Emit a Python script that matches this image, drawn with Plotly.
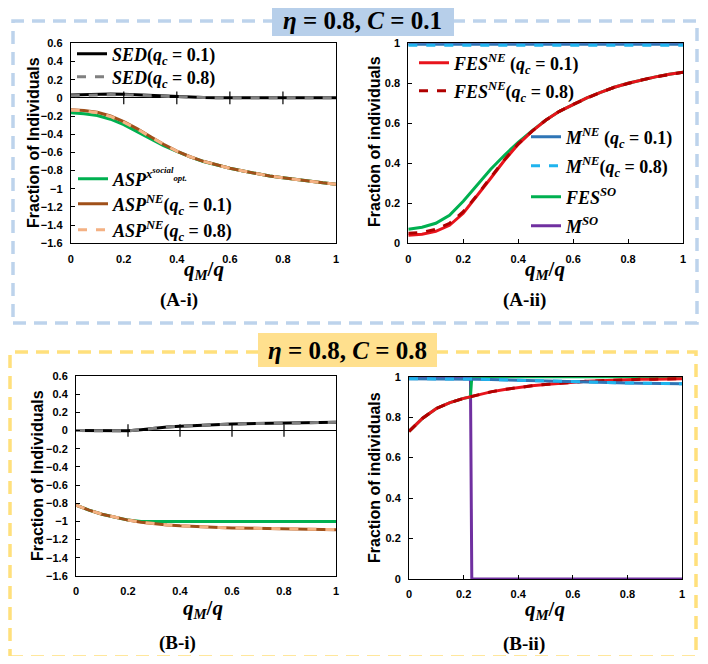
import plotly.graph_objects as go

# the page keeps the browser's 8px body margin: figure is 16px smaller than
# the window and every reference pixel position is shifted back by OFF
W, H = 708, 664
OFF = 8
FW, FH = W - 2 * OFF, H - 2 * OFF

# ---- data -------------------------------------------------------------
x_grid = [0, 0.05, 0.1, 0.15, 0.2, 0.25, 0.3, 0.35, 0.4, 0.45, 0.5,
          0.55, 0.6, 0.65, 0.7, 0.75, 0.8, 0.85, 0.9, 0.95, 1.0]
x_ticks = [0, 0.2, 0.4, 0.6, 0.8, 1]
x_cross_ticks = [0.2, 0.4, 0.6, 0.8]

# (A-i) eta=0.8, C=0.1
sed_a_01 = [0.03, 0.036, 0.041, 0.043, 0.04, 0.034, 0.026, 0.018, 0.011, 0.007, 0.004,
            0.002, 0.001, 0.0, 0.0, 0.0, 0.0, 0.0, 0.0, 0.0, 0.0]
sed_a_08 = [0.024, 0.029, 0.034, 0.036, 0.034, 0.029, 0.022, 0.015, 0.009, 0.005, 0.003,
            0.002, 0.001, 0.0, 0.0, 0.0, 0.0, 0.0, 0.0, 0.0, 0.0]
asp_social_a = [-0.165, -0.175, -0.195, -0.235, -0.295, -0.37, -0.45, -0.525, -0.59, -0.65, -0.7,
                -0.74, -0.775, -0.805, -0.835, -0.86, -0.88, -0.9, -0.92, -0.935, -0.95]
asp_ne_a_01 = [-0.13, -0.138, -0.158, -0.2, -0.262, -0.338, -0.425, -0.51, -0.585, -0.648, -0.698,
               -0.74, -0.775, -0.805, -0.835, -0.86, -0.88, -0.9, -0.92, -0.935, -0.95]
asp_ne_a_08 = [-0.135, -0.143, -0.163, -0.205, -0.267, -0.342, -0.428, -0.512, -0.586, -0.648, -0.698,
               -0.74, -0.775, -0.805, -0.835, -0.86, -0.88, -0.9, -0.92, -0.935, -0.95]

# (A-ii)
fes_ne_a_01 = [0.04, 0.045, 0.06, 0.09, 0.15, 0.235, 0.325, 0.415, 0.495, 0.56, 0.615,
               0.66, 0.695, 0.727, 0.755, 0.78, 0.8, 0.817, 0.832, 0.845, 0.855]
fes_ne_a_08 = [0.05, 0.055, 0.07, 0.1, 0.158, 0.24, 0.33, 0.418, 0.497, 0.56, 0.615,
               0.66, 0.695, 0.727, 0.755, 0.78, 0.8, 0.817, 0.832, 0.845, 0.855]
fes_so_a = [0.07, 0.08, 0.1, 0.14, 0.21, 0.29, 0.37, 0.44, 0.505, 0.562, 0.615,
            0.66, 0.695, 0.727, 0.755, 0.78, 0.8, 0.817, 0.832, 0.845, 0.855]
m_ne_a_01 = [0.995, 0.995, 0.995, 0.995, 0.995, 0.995, 0.995, 0.995, 0.995, 0.995, 0.995,
             0.995, 0.995, 0.995, 0.995, 0.995, 0.995, 0.995, 0.995, 0.995, 0.995]
m_ne_a_08 = [0.99, 0.99, 0.99, 0.99, 0.99, 0.99, 0.99, 0.99, 0.99, 0.99, 0.99,
             0.99, 0.99, 0.99, 0.99, 0.99, 0.99, 0.99, 0.99, 0.99, 0.99]
m_so_a = [1, 1, 1, 1, 1, 1, 1, 1, 1, 1, 1, 1, 1, 1, 1, 1, 1, 1, 1, 1, 1]

# (B-i) eta=0.8, C=0.8
sed_b_01 = [0.0, 0.0, 0.0, 0.0, -0.003, 0.01, 0.026, 0.038, 0.048, 0.056, 0.062,
            0.067, 0.072, 0.075, 0.078, 0.081, 0.083, 0.085, 0.087, 0.089, 0.09]
sed_b_08 = [0.0, 0.0, 0.0, 0.0, -0.003, 0.01, 0.026, 0.038, 0.048, 0.056, 0.062,
            0.067, 0.072, 0.075, 0.078, 0.081, 0.083, 0.085, 0.087, 0.089, 0.09]
asp_social_b = [-0.82, -0.875, -0.92, -0.955, -0.985, -1.0, -1.0, -1.0, -1.0, -1.0, -1.0,
                -1.0, -1.0, -1.0, -1.0, -1.0, -1.0, -1.0, -1.0, -1.0, -1.0]
asp_ne_b_01 = [-0.82, -0.875, -0.92, -0.955, -0.985, -1.008, -1.025, -1.038, -1.048, -1.056, -1.062,
               -1.067, -1.071, -1.074, -1.077, -1.08, -1.082, -1.084, -1.086, -1.088, -1.09]
asp_ne_b_08 = [-0.82, -0.875, -0.92, -0.955, -0.985, -1.008, -1.025, -1.038, -1.048, -1.056, -1.062,
               -1.067, -1.071, -1.074, -1.077, -1.08, -1.082, -1.084, -1.086, -1.088, -1.09]

# (B-ii)
fes_ne_b_01 = [0.73, 0.795, 0.843, 0.872, 0.893, 0.91, 0.925, 0.937, 0.947, 0.955, 0.962,
               0.968, 0.973, 0.977, 0.98, 0.983, 0.985, 0.987, 0.988, 0.989, 0.99]
fes_ne_b_08 = [0.73, 0.795, 0.843, 0.872, 0.893, 0.91, 0.925, 0.937, 0.947, 0.955, 0.962,
               0.968, 0.973, 0.977, 0.98, 0.983, 0.985, 0.987, 0.988, 0.989, 0.99]
m_ne_b_01 = [0.99, 0.99, 0.99, 0.99, 0.99, 0.988, 0.986, 0.984, 0.982, 0.98, 0.978,
             0.976, 0.975, 0.973, 0.972, 0.97, 0.969, 0.968, 0.967, 0.966, 0.965]
m_ne_b_08 = [0.99, 0.99, 0.99, 0.99, 0.99, 0.988, 0.986, 0.984, 0.982, 0.98, 0.978,
             0.976, 0.975, 0.973, 0.972, 0.97, 0.969, 0.968, 0.967, 0.966, 0.965]
x_so_b = [0, 0.05, 0.1, 0.15, 0.2, 0.225, 0.23, 0.3, 0.4, 0.5, 0.6, 0.7, 0.8, 0.9, 1.0]
fes_so_b = [0.73, 0.795, 0.843, 0.872, 0.893, 0.9, 1, 1, 1, 1, 1, 1, 1, 1, 1]
m_so_b = [1, 1, 1, 1, 1, 1, 0, 0, 0, 0, 0, 0, 0, 0, 0]

# ---- helpers ----------------------------------------------------------
def px_x(p):
    return (p - OFF) / FW


def px_y(p):
    return 1 - (p - OFF) / FH


fig = go.Figure()


def add_line(x, y, color, ax, dash='solid', width=3, name=None, legend=None):
    fig.add_trace(go.Scatter(
        x=x, y=y, mode='lines', name=name,
        line=dict(color=color, width=width, dash=dash),
        xaxis='x' + ax, yaxis='y' + ax,
        showlegend=legend is not None,
        legend=legend if legend else 'legend',
    ))


qc1 = '(<i>q<sub>c</sub></i> = 0.1)'
qc8 = '(<i>q<sub>c</sub></i> = 0.8)'

C_BLACK = 'black'
C_GRAY = '#808080'
C_GREEN = '#00B050'
C_BROWN = '#A0501A'
C_PEACH = '#F4B183'
C_RED = '#E8141C'
C_DKRED = '#B00000'
C_BLUE = '#2E75B6'
C_LTBLUE = '#1FB4EE'
C_PURPLE = '#7030A0'

# A-i
add_line(x_grid, sed_a_01, C_BLACK, '1', name='<i>SED</i>' + qc1, legend='legend')
add_line(x_grid, sed_a_08, C_GRAY, '1', dash='dash', name='<i>SED</i>' + qc8, legend='legend2')
add_line(x_grid, asp_social_a, C_GREEN, '1',
         name='<i>ASP<sup>x<sup>social</sup><sub>opt.</sub></sup></i>', legend='legend3')
add_line(x_grid, asp_ne_a_01, C_BROWN, '1', name='<i>ASP<sup>NE</sup></i>' + qc1, legend='legend4')
add_line(x_grid, asp_ne_a_08, C_PEACH, '1', dash='dash', name='<i>ASP<sup>NE</sup></i>' + qc8,
         legend='legend5')

# A-ii
add_line(x_grid, m_so_a, C_PURPLE, '2', name='<i>M<sup>SO</sup></i>', legend='legend11')
add_line(x_grid, fes_so_a, C_GREEN, '2', name='<i>FES<sup>SO</sup></i>', legend='legend10')
add_line(x_grid, fes_ne_a_01, C_RED, '2', name='<i>FES<sup>NE</sup></i> ' + qc1, legend='legend6')
add_line(x_grid, fes_ne_a_08, C_DKRED, '2', dash='dash', name='<i>FES<sup>NE</sup></i>' + qc8,
         legend='legend7')
add_line(x_grid, m_ne_a_01, C_BLUE, '2', name='<i>M<sup>NE</sup></i> ' + qc1, legend='legend8')
add_line(x_grid, m_ne_a_08, C_LTBLUE, '2', dash='dash', name='<i>M<sup>NE</sup></i>' + qc8,
         legend='legend9')

# B-i
add_line(x_grid, sed_b_01, C_BLACK, '3')
add_line(x_grid, sed_b_08, C_GRAY, '3', dash='dash')
add_line(x_grid, asp_social_b, C_GREEN, '3')
add_line(x_grid, asp_ne_b_01, C_BROWN, '3')
add_line(x_grid, asp_ne_b_08, C_PEACH, '3', dash='dash')

# B-ii
add_line(x_so_b, m_so_b, C_PURPLE, '4')
add_line(x_so_b, fes_so_b, C_GREEN, '4')
add_line(x_grid, fes_ne_b_01, C_RED, '4')
add_line(x_grid, fes_ne_b_08, C_DKRED, '4', dash='dash')
add_line(x_grid, m_ne_b_01, C_BLUE, '4')
add_line(x_grid, m_ne_b_08, C_LTBLUE, '4', dash='dash')

# tick marks crossing the horizontal axis at y = 0 (left panels)
for ax in ['1', '3']:
    fig.add_trace(go.Scatter(
        x=x_cross_ticks, y=[0] * len(x_cross_ticks), mode='markers',
        marker=dict(symbol='line-ns', size=9, line=dict(color='black', width=1.2)),
        xaxis='x' + ax, yaxis='y' + ax, showlegend=False, hoverinfo='skip',
    ))

# ---- axes -------------------------------------------------------------
tick_font = dict(family='Liberation Sans', size=11, color='black', weight='bold')
axis_common = dict(showline=True, linecolor='black', linewidth=1, mirror=True,
                   showgrid=False, tickfont=tick_font, ticklabelstandoff=5,
                   automargin=False)

panels = {
    # axis id: (left, right, top, bottom) in window px, y range, y step
    '1': ((70.7, 336, 43.3, 243.3), [-1.6, 0.6], 0.2),
    '2': ((408.3, 683, 43.3, 243.3), [0, 1], 0.2),
    '3': ((76, 336, 376, 576), [-1.6, 0.6], 0.2),
    '4': ((409, 682, 376.7, 579), [0, 1], 0.2),
}
layout_axes = {}
for ax, ((l, r, t, b), yr, dt) in panels.items():
    suffix = '' if ax == '1' else ax
    left_panel = ax in ('1', '3')
    layout_axes['xaxis' + suffix] = dict(
        axis_common, domain=[px_x(l), px_x(r)], range=[0, 1], tickvals=x_ticks,
        ticktext=[f'{v:g}' for v in x_ticks], anchor='y' + ax,
        ticks='' if left_panel else 'inside', ticklen=4, tickcolor='black',
        zeroline=False)
    layout_axes['yaxis' + suffix] = dict(
        axis_common, domain=[px_y(b), px_y(t)], range=yr, dtick=dt, anchor='x' + ax,
        ticks='inside', ticklen=4, tickcolor='black',
        zeroline=left_panel, zerolinecolor='black', zerolinewidth=1.2)

# ---- legends (one per entry, placed like the original) -----------------
legend_font = dict(family='Liberation Serif', size=18, color='black', weight='bold')
legend_pos = {
    'legend': (72, 54), 'legend2': (72, 77),
    'legend3': (73, 179), 'legend4': (73, 204), 'legend5': (73, 230),
    'legend6': (414, 63), 'legend7': (414, 91),
    'legend8': (526, 137), 'legend9': (526, 166), 'legend10': (526, 197), 'legend11': (526, 226),
}
for key, (lx, ly) in legend_pos.items():
    layout_axes[key] = dict(x=px_x(lx), y=px_y(ly), xanchor='left', yanchor='middle',
                            bgcolor='rgba(0,0,0,0)', font=legend_font, itemwidth=30,
                            borderwidth=0, tracegroupgap=0)

# ---- frames and titles ----------------------------------------------------
BLUE_DASH, BLUE_FILL = '#BDD3EC', '#B7CFEA'
YEL_DASH, YEL_FILL = '#FFE07C', '#FFE08E'


def rect(x0, y0, x1, y1, **kw):
    return dict(type='rect', xref='paper', yref='paper', x0=px_x(x0), x1=px_x(x1),
                y0=px_y(y1), y1=px_y(y0), **kw)


shapes = [
    rect(13, 21, 697, 323, line=dict(color=BLUE_DASH, width=3.5, dash='13px,8px')),
    rect(272, 8, 454, 36, line=dict(width=0), fillcolor=BLUE_FILL),
    rect(10, 352, 696, 657, line=dict(color=YEL_DASH, width=3.5, dash='13px,8px')),
    rect(258, 333, 437, 367, line=dict(width=0), fillcolor=YEL_FILL),
]

serif = 'Liberation Serif'
annotations = []


def note(text, x, y, size, family=serif, angle=0):
    annotations.append(dict(text=text, x=px_x(x), y=px_y(y), xref='paper', yref='paper',
                            showarrow=False, xanchor='center', yanchor='middle', textangle=angle,
                            font=dict(family=family, size=size, color='black', weight='bold')))


note('<i>η</i> = 0.8, <i>C</i> = 0.1', 363, 21, 25)
note('<i>η</i> = 0.8, <i>C</i> = 0.8', 347, 350, 25)
for cx, cy in [(204, 270), (545, 270), (203, 609), (545, 610)]:
    note('<i>q<sub>M</sub></i>/<i>q</i>', cx, cy, 21)
note('(A-i)', 179, 300, 19)
note('(A-ii)', 524, 300, 19)
note('(B-i)', 177, 643, 19)
note('(B-ii)', 524, 644, 19)
note('Fraction of Individuals', 33, 143, 16, family='Liberation Sans', angle=-90)
note('Fraction of individuals', 374, 142, 16, family='Liberation Sans', angle=-90)
note('Fraction of Individuals', 37, 476, 16, family='Liberation Sans', angle=-90)
note('Fraction of individuals', 374, 478, 16, family='Liberation Sans', angle=-90)

fig.update_layout(
    width=FW, height=FH, autosize=False,
    margin=dict(l=0, r=0, t=0, b=0, pad=0, autoexpand=False),
    plot_bgcolor='white', paper_bgcolor='white',
    shapes=shapes, annotations=annotations,
    **layout_axes,
)

fig.write_html("out.html")
